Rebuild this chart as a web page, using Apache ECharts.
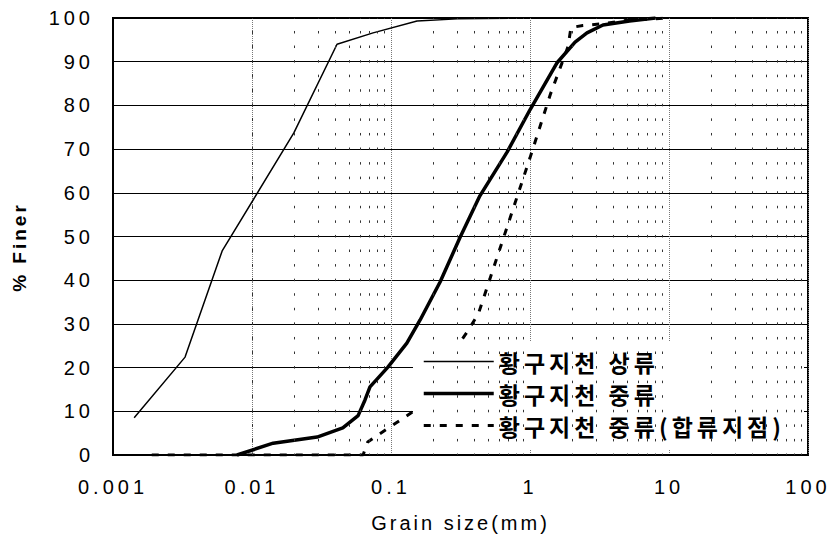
<!DOCTYPE html>
<html>
<head>
<meta charset="utf-8">
<script src="https://cdn.jsdelivr.net/npm/echarts@6/dist/echarts.min.js"></script>
<style>
html, body { margin: 0; padding: 0; background: #fff; }
#chart { width: 831px; height: 538px; }
#chart text[style*="Liberation"] { letter-spacing: 4px; }
#chart text[style*="Arial"] { letter-spacing: 3px; }
#chart text[style*="CJK"] { letter-spacing: 4px; }
</style>
</head>
<body>
<div id="chart"></div>
<script>
// ---- data ----
const xTickLabels = ['0.001', '0.01', '0.1', '1', '10', '100'];
const seriesNames = ['황구지천 상류', '황구지천 중류', '황구지천 중류(합류지점)'];

const upstreamSize  = [0.00142, 0.0033, 0.0061, 0.020, 0.0409, 0.0743, 0.154, 0.3, 1];
const upstreamFiner = [8.5, 22.4, 46.7, 73.7, 94.0, 96.6, 99.3, 99.8, 100];

const midSize  = [0.0078, 0.0142, 0.0294, 0.045, 0.058, 0.065, 0.0706, 0.095, 0.130, 0.162, 0.2255, 0.313, 0.436, 0.684, 1.0, 1.56, 2.11, 2.57, 3.35, 5.2, 8];
const midFiner = [0, 2.7, 4.1, 6.2, 9.0, 12.6, 15.6, 20.1, 25.6, 30.9, 39.6, 49.7, 59.3, 69.3, 79, 89.7, 94.5, 96.6, 98.4, 99.3, 100];

const confSize  = [0.0019, 0.063, 0.068, 0.145, 0.35, 0.425, 1.0, 1.4, 1.88, 1.97, 2.4, 3.4, 5, 10];
const confFiner = [0, 0, 3, 10, 28, 32.3, 68, 82.5, 93.5, 97.8, 98.3, 98.7, 99.5, 100];

// minor log grid positions (2..9 x each decade)
const minorGrid = [];
for (let e = -3; e < 2; e++) {
  for (let m = 2; m <= 9; m++) minorGrid.push(+(m * Math.pow(10, e)).toPrecision(3));
}

function pairs(xs, ys) { return xs.map((x, i) => [x, ys[i]]); }

const lineStyles = [
  { color: '#000', width: 1.5 },
  { color: '#000', width: 3.5 },
  { color: '#000', width: 3, type: [7, 9] }
];

const chart = echarts.init(document.getElementById('chart'), null, { renderer: 'svg' });

const tickFont = { fontFamily: 'Liberation Sans', fontSize: 20, color: '#000' };

chart.setOption({
  animation: false,
  backgroundColor: '#fff',
  grid: {
    left: 113, right: 23, top: 18, bottom: 83,
    show: true, borderColor: '#000', borderWidth: 2, backgroundColor: 'transparent'
  },
  xAxis: {
    type: 'log', logBase: 10, min: 0.001, max: 100,
    name: 'Grain size(mm)', nameLocation: 'middle', nameGap: 58,
    nameTextStyle: { fontFamily: 'Arial', fontSize: 20, color: '#000' },
    axisLine: { lineStyle: { color: '#000', width: 2 } },
    axisTick: { show: false },
    axisLabel: Object.assign({ margin: 22, formatter: v => xTickLabels[Math.round(Math.log10(v)) + 3] }, tickFont),
    splitLine: { show: true, lineStyle: { color: '#777', width: 1, type: [1, 1] } },
    minorTick: { show: false }, minorSplitLine: { show: false }
  },
  yAxis: {
    type: 'value', min: 0, max: 100, interval: 10,
    name: '% Finer', nameLocation: 'middle', nameGap: 84,
    nameTextStyle: { fontFamily: 'Arial', fontSize: 19, fontWeight: 'bold', color: '#000', padding: [0, 21, 0, 0] },
    axisLine: { show: true, lineStyle: { color: '#000', width: 2 } },
    axisTick: { show: false },
    axisLabel: Object.assign({ margin: 19 }, tickFont),
    splitLine: { show: true, lineStyle: { color: '#000', width: 1 } }
  },
  legend: {
    data: seriesNames.map((n, i) => ({ name: n, lineStyle: lineStyles[i] })),
    orient: 'vertical',
    left: 422, top: 350,
    itemWidth: 70, itemHeight: 14, itemGap: 9,
    padding: 0, z: 10,
    itemStyle: { opacity: 0 },
    textStyle: { fontFamily: 'Noto Sans CJK KR', fontWeight: 'bold', fontSize: 23, color: '#000' }
  },
  graphic: [{
    type: 'rect', z: 5, silent: true,
    shape: { x: 413, y: 342, width: 391, height: 108 },
    style: { fill: '#fff' }
  }],
  series: [
    {
      name: seriesNames[0], type: 'line', data: pairs(upstreamSize, upstreamFiner),
      symbol: 'none', lineStyle: lineStyles[0], itemStyle: { color: '#000' },
      markLine: {
        silent: true, symbol: 'none', label: { show: false },
        lineStyle: { color: '#333', width: 1, type: [2.5, 12.07], dashOffset: 1.25 },
        data: minorGrid.map(v => ({ xAxis: v }))
      }
    },
    {
      name: seriesNames[1], type: 'line', data: pairs(midSize, midFiner),
      symbol: 'none', lineStyle: lineStyles[1], itemStyle: { color: '#000' }
    },
    {
      name: seriesNames[2], type: 'line', data: pairs(confSize, confFiner),
      symbol: 'none', lineStyle: lineStyles[2], itemStyle: { color: '#000' }
    }
  ]
});
</script>
</body>
</html>
